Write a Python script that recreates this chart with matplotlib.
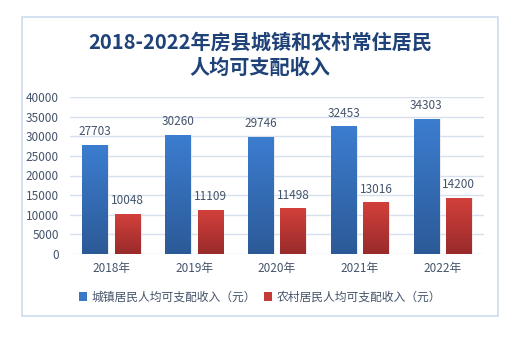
import numpy as np
import matplotlib
matplotlib.use('Agg')
import matplotlib.pyplot as plt
from matplotlib.patches import Rectangle
from matplotlib.colors import LinearSegmentedColormap

plt.rcParams['font.family'] = ['Noto Sans CJK SC', 'DejaVu Sans']

# 数据
years = ['2018年', '2019年', '2020年', '2021年', '2022年']
urban = [27703, 30260, 29746, 32453, 34303]
rural = [10048, 11109, 11498, 13016, 14200]
urban_name = '城镇居民人均可支配收入（元）'
rural_name = '农村居民人均可支配收入（元）'
title = '2018-2022年房县城镇和农村常住居民\n人均可支配收入'

txt_color = '#44546A'
grid_color = '#D6E0EE'

fig = plt.figure(figsize=(5.2, 3.37), dpi=100)
# 外框
fig.patches.append(Rectangle((22 / 520, 1 - 316 / 337), 476 / 520, 299 / 337,
                             transform=fig.transFigure, fill=False,
                             edgecolor='#CCDCEE', linewidth=1.2))

ax = fig.add_axes([70 / 520, 1 - 254 / 337, 414 / 520, 157 / 337])

x = np.arange(len(years))
w = 0.31
gap = 0.04
b1 = ax.bar(x - w / 2 - gap, urban, w, color='#3A78C6', label=urban_name, zorder=2)
b2 = ax.bar(x + w / 2 + gap, rural, w, color='#C43A36', label=rural_name, zorder=2)

# 渐变填充
blue_cm = LinearSegmentedColormap.from_list('b', ['#2C5A97', '#3C7DD0'])
red_cm = LinearSegmentedColormap.from_list('r', ['#992B2B', '#D2403B'])
grad = np.linspace(0, 1, 100).reshape(-1, 1)
for bars, cm in [(b1, blue_cm), (b2, red_cm)]:
    for b in bars:
        x0, h = b.get_x(), b.get_height()
        ax.imshow(grad, cmap=cm, origin='lower', aspect='auto', zorder=3,
                  extent=(x0, x0 + b.get_width(), 0, h))
        # 阴影
        ax.add_patch(Rectangle((x0 + 0.015, 0), b.get_width(), h, color='#000000',
                               alpha=0.08, zorder=1.5, linewidth=0))

for bars in (b1, b2):
    for b in bars:
        ax.text(b.get_x() + b.get_width() / 2, b.get_height() + 1800,
                f'{int(b.get_height())}', ha='center', va='bottom',
                fontsize=8.5, color=txt_color, zorder=4)

ax.set_xlim(-0.5, len(years) - 0.5)
ax.set_ylim(0, 40000)
ax.set_yticks(range(0, 40001, 5000))
ax.set_xticks(x)
ax.set_xticklabels(years)
ax.tick_params(axis='both', length=0, labelsize=8.5, labelcolor=txt_color)
ax.tick_params(axis='x', pad=6)
ax.tick_params(axis='y', pad=8)
ax.grid(axis='y', color=grid_color, linewidth=1, zorder=0)
for s in ax.spines.values():
    s.set_visible(False)

fig.text(0.5, 1 - 55 / 337, title, ha='center', va='center', fontsize=14.5,
         fontweight='bold', color='#1F4378', linespacing=1.25)

fig.legend(handles=[b1, b2], loc='center', bbox_to_anchor=(0.5, 1 - 297 / 337),
           ncol=2, frameon=False, fontsize=8.5, labelcolor=txt_color,
           handlelength=0.7, handleheight=0.7, handletextpad=0.4, columnspacing=0.6)

fig.savefig('out.png', dpi=100)
